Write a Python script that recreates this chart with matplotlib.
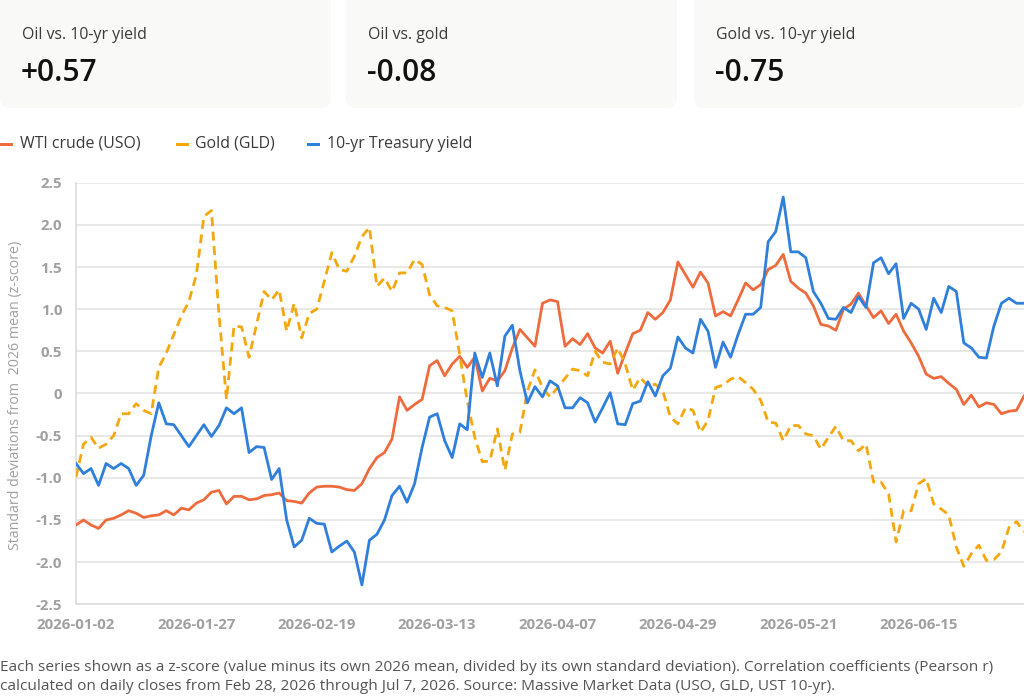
import matplotlib
matplotlib.use("Agg")
import matplotlib.pyplot as plt
from matplotlib.patches import FancyBboxPatch, Rectangle
from matplotlib.ticker import FuncFormatter
import numpy as np
import pandas as pd

# ---------------- data ----------------
start_date = "2026-01-02"
end_date = "2026-07-07"
holidays = ["2026-01-19", "2026-02-16", "2026-04-03", "2026-05-25", "2026-06-19", "2026-07-03"]

series_names = ["WTI crude (USO)", "Gold (GLD)", "10-yr Treasury yield"]

oil = [-1.56, -1.50, -1.56, -1.60, -1.50, -1.48, -1.44, -1.39, -1.42, -1.47,
       -1.45, -1.44, -1.39, -1.44, -1.36, -1.38, -1.30, -1.26, -1.17, -1.15,
       -1.31, -1.22, -1.22, -1.26, -1.25, -1.21, -1.20, -1.18, -1.27, -1.28,
       -1.30, -1.18, -1.11, -1.10, -1.10, -1.11, -1.14, -1.15, -1.07, -0.89,
       -0.76, -0.70, -0.54, -0.04, -0.20, -0.13, -0.07, 0.33, 0.39, 0.21,
       0.35, 0.44, 0.31, 0.43, 0.03, 0.18, 0.15, 0.27, 0.54, 0.76,
       0.66, 0.56, 1.07, 1.11, 1.09, 0.56, 0.65, 0.58, 0.71, 0.54,
       0.48, 0.62, 0.24, 0.48, 0.71, 0.75, 0.96, 0.88, 0.96, 1.11,
       1.56, 1.41, 1.26, 1.44, 1.31, 0.92, 0.97, 0.92, 1.11, 1.31,
       1.23, 1.29, 1.47, 1.52, 1.65, 1.33, 1.25, 1.19, 1.04, 0.82,
       0.80, 0.75, 1.00, 1.06, 1.19, 1.04, 0.90, 0.98, 0.83, 0.94,
       0.74, 0.60, 0.44, 0.23, 0.18, 0.20, 0.12, 0.05, -0.13, -0.02,
       -0.16, -0.11, -0.13, -0.24, -0.21, -0.20, -0.03]

gold = [-0.99, -0.60, -0.52, -0.65, -0.60, -0.50, -0.24, -0.24, -0.12, -0.20,
        -0.24, 0.31, 0.48, 0.70, 0.92, 1.09, 1.41, 2.10, 2.17, 0.94,
        -0.07, 0.80, 0.79, 0.43, 0.82, 1.21, 1.11, 1.23, 0.74, 1.07,
        0.66, 0.95, 1.00, 1.33, 1.67, 1.47, 1.45, 1.63, 1.86, 1.97,
        1.27, 1.37, 1.21, 1.43, 1.43, 1.59, 1.53, 1.17, 1.04, 1.02,
        0.98, 0.46, -0.09, -0.52, -0.81, -0.80, -0.42, -0.91, -0.48, -0.46,
        0.03, 0.28, 0.07, -0.04, 0.07, 0.18, 0.29, 0.27, 0.21, 0.50,
        0.37, 0.35, 0.54, 0.35, 0.04, 0.19, 0.09, 0.11, 0.03, -0.28,
        -0.36, -0.17, -0.20, -0.46, -0.32, 0.07, 0.10, 0.17, 0.20, 0.13,
        0.05, -0.08, -0.34, -0.35, -0.56, -0.38, -0.38, -0.48, -0.50, -0.66,
        -0.52, -0.39, -0.56, -0.56, -0.68, -0.60, -1.05, -1.05, -1.19, -1.76,
        -1.39, -1.39, -1.07, -1.01, -1.31, -1.37, -1.44, -1.82, -2.05, -1.90,
        -1.80, -1.98, -1.97, -1.88, -1.59, -1.52, -1.64]

yield10 = [-0.83, -0.95, -0.89, -1.09, -0.83, -0.89, -0.83, -0.89, -1.09, -0.97,
           -0.50, -0.11, -0.36, -0.37, -0.50, -0.63, -0.50, -0.37, -0.51, -0.38,
           -0.17, -0.24, -0.17, -0.70, -0.63, -0.64, -1.02, -0.89, -1.50, -1.82,
           -1.74, -1.48, -1.54, -1.55, -1.88, -1.81, -1.75, -1.88, -2.27, -1.74,
           -1.67, -1.50, -1.21, -1.10, -1.29, -1.07, -0.64, -0.28, -0.24, -0.56,
           -0.76, -0.36, -0.43, 0.48, 0.19, 0.48, 0.09, 0.68, 0.81, 0.27,
           -0.11, 0.08, -0.04, 0.15, 0.09, -0.17, -0.17, -0.05, -0.11, -0.34,
           -0.17, 0.01, -0.36, -0.37, -0.12, -0.09, 0.14, -0.03, 0.21, 0.30,
           0.67, 0.54, 0.48, 0.88, 0.74, 0.31, 0.61, 0.43, 0.70, 0.94,
           0.94, 1.02, 1.80, 1.92, 2.33, 1.68, 1.68, 1.61, 1.21, 1.07,
           0.89, 0.88, 1.02, 0.96, 1.15, 1.02, 1.55, 1.61, 1.42, 1.54,
           0.89, 1.07, 1.00, 0.76, 1.13, 0.96, 1.27, 1.21, 0.60, 0.54,
           0.43, 0.42, 0.80, 1.07, 1.13, 1.07, 1.07]

card_titles = ["Oil vs. 10-yr yield", "Oil vs. gold", "Gold vs. 10-yr yield"]
card_values = ["+0.57", "-0.08", "-0.75"]

y_ticks = [2.5, 2.0, 1.5, 1.0, 0.5, 0.0, -0.5, -1.0, -1.5, -2.0, -2.5]
y_label = "Standard deviations from  2026 mean (z-score)"
tick_every = 16

footer = ("Each series shown as a z-score (value minus its own 2026 mean, divided by its own standard deviation). "
          "Correlation coefficients (Pearson r)\n"
          "calculated on daily closes from Feb 28, 2026 through Jul 7, 2026. Source: Massive Market Data (USO, GLD, UST 10-yr).")

# ---------------- style ----------------
plt.rcParams['font.family'] = ['Open Sans', 'DejaVu Sans']
plt.rcParams['axes.unicode_minus'] = False

C_OIL = "#EE6B3D"
C_GOLD = "#F4A70E"
C_YLD = "#2F7FDB"

W, H = 1024, 696
fig = plt.figure(figsize=(W / 100, H / 100), dpi=100)
fig.patch.set_facecolor("white")

dates = pd.bdate_range(start_date, end_date)
dates = dates[~dates.isin(pd.to_datetime(holidays))]
labels = [d.strftime("%Y-%m-%d") for d in dates]
x = np.arange(len(labels))

# ---------------- cards ----------------
card_x = [0, 346, 694]
card_w = 331
for cx, t, v in zip(card_x, card_titles, card_values):
    box = FancyBboxPatch((cx, H - 108), card_w, 120,
                         boxstyle="round,pad=0,rounding_size=10",
                         transform=None, facecolor="#F9F9F7", edgecolor="none",
                         zorder=0)
    fig.patches.append(box)
    fig.text((cx + 22) / W, 1 - 35 / H, t, fontsize=11.4, color="#3a3a3a",
             ha="left", va="center")
    fig.text((cx + 21) / W, 1 - 73 / H, v, fontsize=21.5, color="#111111",
             ha="left", va="center", fontweight="semibold")

# ---------------- legend ----------------
leg_items = [(0, 20, C_OIL), (176, 195, C_GOLD), (307, 327, C_YLD)]
for (mx, tx, c), name in zip(leg_items, series_names):
    fig.patches.append(Rectangle((mx, H - 145.5), 13, 3, transform=None,
                                 facecolor=c, edgecolor="none"))
    fig.text(tx / W, 1 - 144 / H, name, fontsize=11.4, color="#3a3a3a",
             ha="left", va="center")

# ---------------- chart ----------------
left, right = 76, 1024
top, bottom = 182.7, 604.3
ax = fig.add_axes([left / W, (H - bottom) / H, (right - left) / W, (bottom - top) / H])
ax.set_facecolor("white")

ax.plot(x, oil, color=C_OIL, lw=2.0, zorder=3, solid_joinstyle="round")
ax.plot(x, gold, color=C_GOLD, lw=2.0, zorder=3, linestyle=(0, (3.2, 2.0)))
ax.plot(x, yield10, color=C_YLD, lw=2.0, zorder=4, solid_joinstyle="round")

ax.set_xlim(0, len(x) - 1)
ax.set_ylim(-2.5, 2.5)
ax.set_yticks(y_ticks)
ax.yaxis.set_major_formatter(FuncFormatter(lambda v, p: "0" if abs(v) < 1e-9 else f"{v:.1f}"))
ax.set_xticks(x[::tick_every])
ax.set_xticklabels(labels[::tick_every])

ax.grid(axis="y", color="#E4E4E2", lw=1.2)
ax.set_axisbelow(True)
for s in ["top", "right"]:
    ax.spines[s].set_visible(False)
ax.spines["left"].set_color("#DDDDDB")
ax.spines["bottom"].set_color("#DDDDDB")
ax.spines["left"].set_linewidth(1.2)
ax.spines["bottom"].set_linewidth(1.2)
ax.tick_params(axis="both", length=0, colors="#9a9a9a", labelsize=10.8)
ax.tick_params(axis="y", pad=10)
ax.tick_params(axis="x", pad=10)
for lab in ax.get_xticklabels() + ax.get_yticklabels():
    lab.set_fontweight("bold")
    lab.set_color("#a0a0a0")

fig.text(16 / W, 1 - 395 / H, y_label, rotation=90, fontsize=10.3, color="#a0a0a0",
         ha="center", va="center")

# ---------------- footer ----------------
fig.text(0, 1 - 677 / H, footer, fontsize=11.1, color="#555555", ha="left",
         va="center", linespacing=1.35)

fig.savefig("out.png", dpi=100, facecolor="white")
